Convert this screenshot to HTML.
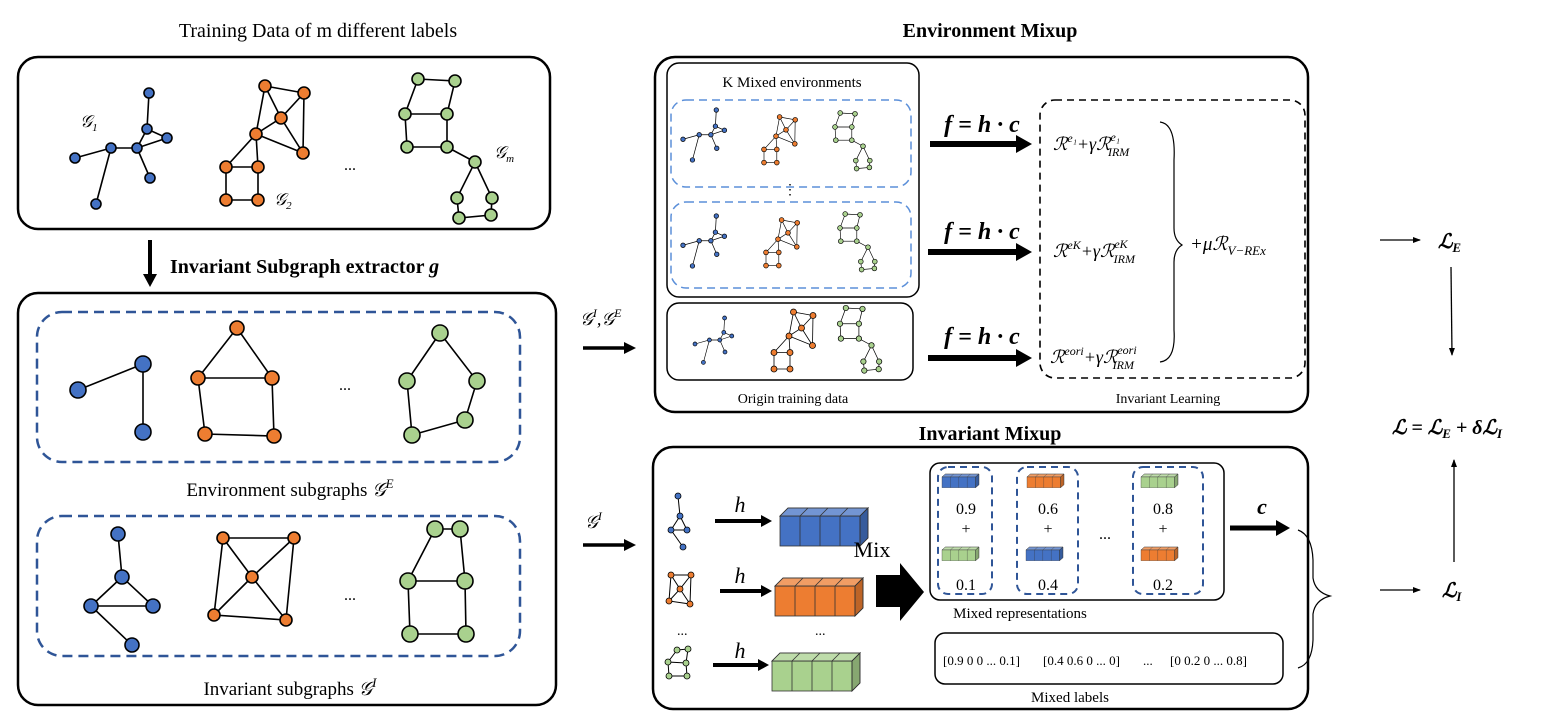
<!DOCTYPE html>
<html><head><meta charset="utf-8"><style>body{margin:0;background:#fff}svg{display:block}text{font-family:"Liberation Serif",serif}</style></head><body>
<svg width="1550" height="718" viewBox="0 0 1550 718" xmlns="http://www.w3.org/2000/svg">
<defs>
<marker id="ah" markerWidth="8" markerHeight="8" refX="7" refY="4" orient="auto" markerUnits="userSpaceOnUse"><path d="M0,1 L8,4 L0,7z" fill="#000"/></marker>
<g id="G1" stroke="#000" stroke-width="1.6">
<g fill="none"><path d="M149,93L147,129L167,138L137,148L147,129M137,148L111,148L75,158M111,148L96,204M137,148L150,178"/></g>
<g fill="#4472C4"><circle cx="149" cy="93" r="5"/><circle cx="147" cy="129" r="5"/><circle cx="167" cy="138" r="5"/><circle cx="137" cy="148" r="5"/><circle cx="111" cy="148" r="5"/><circle cx="75" cy="158" r="5"/><circle cx="150" cy="178" r="5"/><circle cx="96" cy="204" r="5"/></g></g>
<g id="G2" stroke="#000" stroke-width="1.6">
<path fill="none" d="M265,86L304,93L281,118L256,134L265,86L281,118M304,93L303,153L281,118M256,134L303,153M256,134L226,167L258,167L256,134M226,167L226,200L258,200L258,167"/>
<g fill="#ED7D31"><circle cx="265" cy="86" r="6"/><circle cx="304" cy="93" r="6"/><circle cx="281" cy="118" r="6"/><circle cx="256" cy="134" r="6"/><circle cx="303" cy="153" r="6"/><circle cx="226" cy="167" r="6"/><circle cx="258" cy="167" r="6"/><circle cx="226" cy="200" r="6"/><circle cx="258" cy="200" r="6"/></g></g>
<g id="Gm" stroke="#000" stroke-width="1.6">
<path fill="none" d="M418,79L455,81L447,114L405,114L418,79M405,114L407,147L447,147L447,114M447,147L475,162L457,198L459,218L491,215L492,198L475,162"/>
<g fill="#A9D18E"><circle cx="418" cy="79" r="6"/><circle cx="455" cy="81" r="6"/><circle cx="405" cy="114" r="6"/><circle cx="447" cy="114" r="6"/><circle cx="407" cy="147" r="6"/><circle cx="447" cy="147" r="6"/><circle cx="475" cy="162" r="6"/><circle cx="457" cy="198" r="6"/><circle cx="492" cy="198" r="6"/><circle cx="459" cy="218" r="6"/><circle cx="491" cy="215" r="6"/></g></g>
<g id="blk" stroke="#333" stroke-width="0.8">
<rect x="0" y="8" width="80" height="30"/>
<polygon points="0,8 8,0 88,0 80,8"/><polygon points="0,8 8,0 88,0 80,8" fill="#fff" fill-opacity="0.25"/>
<polygon points="80,8 88,0 88,30 80,38"/><polygon points="80,8 88,0 88,30 80,38" fill="#000" fill-opacity="0.2"/>
<path fill="none" d="M20,8V38M40,8V38M60,8V38M28,0L20,8M48,0L40,8M68,0L60,8"/>
</g>
</defs>

<text x="318" y="37" font-size="20" text-anchor="middle">Training Data of m different labels</text>
<rect x="18" y="57" width="532" height="172" rx="20" fill="none" stroke="#000" stroke-width="2.5"/>
<use href="#G1"/><use href="#G2"/><use href="#Gm"/>
<text x="80" y="127" font-size="17" font-style="italic">𝒢<tspan font-size="11" dy="4">1</tspan></text>
<text x="274" y="205" font-size="17" font-style="italic">𝒢<tspan font-size="11" dy="4">2</tspan></text>
<text x="494" y="158" font-size="17" font-style="italic">𝒢<tspan font-size="11" dy="4">m</tspan></text>
<text x="350" y="170" font-size="16" text-anchor="middle">...</text>

<line x1="150" y1="240" x2="150" y2="276" stroke="#000" stroke-width="4"/>
<path d="M143,274L157,274L150,287z" fill="#000"/>
<text x="170" y="273" font-size="20" font-weight="bold">Invariant Subgraph extractor <tspan font-style="italic">g</tspan></text>

<rect x="18" y="293" width="538" height="412" rx="20" fill="none" stroke="#000" stroke-width="2.5"/>
<rect x="37" y="312" width="483" height="150" rx="25" fill="none" stroke="#2F5597" stroke-width="2.5" stroke-dasharray="10,6"/>
<g stroke="#000" stroke-width="1.6" fill="none">
<path d="M78,390L143,364L143,432"/>
<path d="M237,328L198,378L272,378L237,328M198,378L205,434L274,436L272,378"/>
<path d="M440,333L407,381L412,435L465,420L477,381L440,333"/>
</g>
<g stroke="#000" stroke-width="1.6">
<g fill="#4472C4"><circle cx="78" cy="390" r="8"/><circle cx="143" cy="364" r="8"/><circle cx="143" cy="432" r="8"/></g>
<g fill="#ED7D31"><circle cx="237" cy="328" r="7"/><circle cx="198" cy="378" r="7"/><circle cx="272" cy="378" r="7"/><circle cx="205" cy="434" r="7"/><circle cx="274" cy="436" r="7"/></g>
<g fill="#A9D18E"><circle cx="440" cy="333" r="8"/><circle cx="407" cy="381" r="8"/><circle cx="477" cy="381" r="8"/><circle cx="412" cy="435" r="8"/><circle cx="465" cy="420" r="8"/></g>
</g>
<text x="345" y="390" font-size="16" text-anchor="middle">...</text>
<text x="290" y="496" font-size="19" text-anchor="middle">Environment subgraphs <tspan font-style="italic">𝒢</tspan><tspan font-size="13" dy="-8" font-style="italic">E</tspan></text>

<rect x="37" y="516" width="483" height="140" rx="25" fill="none" stroke="#2F5597" stroke-width="2.5" stroke-dasharray="10,6"/>
<g stroke="#000" stroke-width="1.6" fill="none">
<path d="M118,534L122,577L91,606L153,606L122,577M91,606L132,645"/>
<path d="M223,538L294,538L286,620L214,615L223,538M223,538L252,577L294,538M214,615L252,577L286,620"/>
<path d="M435,529L460,529L465,581L408,581L435,529M408,581L410,634L466,634L465,581"/>
</g>
<g stroke="#000" stroke-width="1.6">
<g fill="#4472C4"><circle cx="118" cy="534" r="7"/><circle cx="122" cy="577" r="7"/><circle cx="91" cy="606" r="7"/><circle cx="153" cy="606" r="7"/><circle cx="132" cy="645" r="7"/></g>
<g fill="#ED7D31"><circle cx="223" cy="538" r="6"/><circle cx="294" cy="538" r="6"/><circle cx="252" cy="577" r="6"/><circle cx="214" cy="615" r="6"/><circle cx="286" cy="620" r="6"/></g>
<g fill="#A9D18E"><circle cx="435" cy="529" r="8"/><circle cx="460" cy="529" r="8"/><circle cx="408" cy="581" r="8"/><circle cx="465" cy="581" r="8"/><circle cx="410" cy="634" r="8"/><circle cx="466" cy="634" r="8"/></g>
</g>
<text x="350" y="600" font-size="16" text-anchor="middle">...</text>
<text x="290" y="695" font-size="19" text-anchor="middle">Invariant subgraphs <tspan font-style="italic">𝒢</tspan><tspan font-size="13" dy="-8" font-style="italic">I</tspan></text>

<text x="580" y="325" font-size="18" font-style="italic">𝒢<tspan font-size="12" dy="-8">I</tspan><tspan dy="8">,𝒢</tspan><tspan font-size="12" dy="-8">E</tspan></text>
<line x1="583" y1="348" x2="626" y2="348" stroke="#000" stroke-width="3.5"/><path d="M624,342L636,348L624,354z"/>
<text x="585" y="528" font-size="18" font-style="italic">𝒢<tspan font-size="12" dy="-8">I</tspan></text>
<line x1="583" y1="545" x2="626" y2="545" stroke="#000" stroke-width="3.5"/><path d="M624,539L636,545L624,551z"/>

<text x="990" y="37" font-size="20" font-weight="bold" text-anchor="middle">Environment Mixup</text>
<rect x="655" y="57" width="653" height="355" rx="20" fill="none" stroke="#000" stroke-width="2.5"/>
<rect x="667" y="63" width="252" height="234" rx="12" fill="none" stroke="#000" stroke-width="1.5"/>
<text x="792" y="87" font-size="15" text-anchor="middle">K Mixed environments</text>
<rect x="671" y="100" width="240" height="87" rx="15" fill="none" stroke="#5B8FD9" stroke-width="1.5" stroke-dasharray="8,5"/>
<rect x="671" y="202" width="240" height="86" rx="15" fill="none" stroke="#5B8FD9" stroke-width="1.5" stroke-dasharray="8,5"/>
<text x="790" y="194" font-size="14" text-anchor="middle">⋮</text>
<g transform="translate(683,110) scale(0.45) translate(-75,-93)"><use href="#G1"/></g>
<g transform="translate(764,117) scale(0.4) translate(-226,-86)"><use href="#G2"/></g>
<g transform="translate(835,113) scale(0.4) translate(-405,-79)"><use href="#Gm"/></g>
<g transform="translate(683,216) scale(0.45) translate(-75,-93)"><use href="#G1"/></g>
<g transform="translate(766,220) scale(0.4) translate(-226,-86)"><use href="#G2"/></g>
<g transform="translate(840,214) scale(0.4) translate(-405,-79)"><use href="#Gm"/></g>
<rect x="667" y="303" width="246" height="77" rx="12" fill="none" stroke="#000" stroke-width="1.5"/>
<g transform="translate(695,318) scale(0.4) translate(-75,-93)"><use href="#G1"/></g>
<g transform="translate(774,312) scale(0.5) translate(-226,-86)"><use href="#G2"/></g>
<g transform="translate(840,308) scale(0.45) translate(-405,-79)"><use href="#Gm"/></g>
<text x="793" y="403" font-size="14" text-anchor="middle">Origin training data</text>

<g font-size="24" font-weight="bold" font-style="italic" text-anchor="middle">
<text x="982" y="132">f = h · c</text><text x="982" y="239">f = h · c</text><text x="982" y="344">f = h · c</text></g>
<g stroke="#000" stroke-width="6"><line x1="930" y1="144" x2="1018" y2="144"/><line x1="928" y1="252" x2="1018" y2="252"/><line x1="928" y1="358" x2="1018" y2="358"/></g>
<path d="M1016,135L1032,144L1016,153zM1016,243L1032,252L1016,261zM1016,349L1032,358L1016,367z"/>
<rect x="1040" y="100" width="265" height="278" rx="15" fill="none" stroke="#000" stroke-width="1.6" stroke-dasharray="7,5"/>
<g font-size="18" font-style="italic">
<text x="1053" y="150">ℛ<tspan font-size="12" dy="-8">e₁</tspan><tspan dy="8">+γℛ</tspan><tspan font-size="12" dy="-9">e₁</tspan><tspan font-size="12" dx="-12" dy="15">IRM</tspan></text>
<text x="1053" y="257">ℛ<tspan font-size="12" dy="-8">eK</tspan><tspan dy="8">+γℛ</tspan><tspan font-size="12" dy="-9">eK</tspan><tspan font-size="12" dx="-14" dy="15">IRM</tspan></text>
<text x="1050" y="363">ℛ<tspan font-size="12" dy="-8">eori</tspan><tspan dy="8">+γℛ</tspan><tspan font-size="12" dy="-9">eori</tspan><tspan font-size="12" dx="-24" dy="15">IRM</tspan></text>
<text x="1190" y="250" font-size="19">+μℛ<tspan font-size="13" dy="5">V−REx</tspan></text>
</g>
<path d="M1160,122 Q1176,124 1174,160 L1174,228 Q1174,240 1182,245 Q1174,250 1174,262 L1174,330 Q1176,360 1160,362" fill="none" stroke="#000" stroke-width="1.2"/>
<text x="1168" y="403" font-size="14" text-anchor="middle">Invariant Learning</text>

<line x1="1380" y1="240" x2="1420" y2="240" stroke="#000" stroke-width="1.3" marker-end="url(#ah)"/>
<text x="1438" y="248" font-size="20" font-weight="bold" font-style="italic">ℒ<tspan font-size="13" dy="4">E</tspan></text>
<line x1="1451" y1="267" x2="1452" y2="355" stroke="#000" stroke-width="1.3" marker-end="url(#ah)"/>
<text x="1392" y="434" font-size="20" font-weight="bold" font-style="italic">ℒ = ℒ<tspan font-size="13" dy="4">E</tspan><tspan dy="-4"> + δℒ</tspan><tspan font-size="13" dy="4">I</tspan></text>
<line x1="1454" y1="562" x2="1454" y2="460" stroke="#000" stroke-width="1.3" marker-end="url(#ah)"/>
<line x1="1380" y1="590" x2="1420" y2="590" stroke="#000" stroke-width="1.3" marker-end="url(#ah)"/>
<text x="1442" y="597" font-size="20" font-weight="bold" font-style="italic">ℒ<tspan font-size="13" dy="4">I</tspan></text>

<text x="990" y="440" font-size="20" font-weight="bold" text-anchor="middle">Invariant Mixup</text>
<rect x="653" y="447" width="655" height="262" rx="20" fill="none" stroke="#000" stroke-width="2.5"/>
<g stroke="#000" stroke-width="1" fill="none">
<path d="M678,496L680,516L671,530L687,530L680,516M671,530L683,547"/>
<path d="M671,575L691,575L690,604L669,601L671,575M671,575L680,589L691,575M669,601L680,589L690,604"/>
<path d="M677,650L688,649L686,663L668,662L677,650M668,662L669,676L687,676L686,663"/>
</g>
<g stroke="#000" stroke-width="0.8">
<g fill="#4472C4"><circle cx="678" cy="496" r="3"/><circle cx="680" cy="516" r="3"/><circle cx="671" cy="530" r="3"/><circle cx="687" cy="530" r="3"/><circle cx="683" cy="547" r="3"/></g>
<g fill="#ED7D31"><circle cx="671" cy="575" r="3"/><circle cx="691" cy="575" r="3"/><circle cx="680" cy="589" r="3"/><circle cx="669" cy="601" r="3"/><circle cx="690" cy="604" r="3"/></g>
<g fill="#A9D18E"><circle cx="677" cy="650" r="3"/><circle cx="688" cy="649" r="3"/><circle cx="668" cy="662" r="3"/><circle cx="686" cy="663" r="3"/><circle cx="669" cy="676" r="3"/><circle cx="687" cy="676" r="3"/></g>
</g>
<text x="677" y="635" font-size="14">...</text>
<g font-size="22" font-style="italic" text-anchor="middle"><text x="740" y="512">h</text><text x="740" y="583">h</text><text x="740" y="658">h</text></g>
<g stroke="#000" stroke-width="4"><line x1="715" y1="521" x2="763" y2="521"/><line x1="720" y1="591" x2="763" y2="591"/><line x1="713" y1="665" x2="760" y2="665"/></g>
<path d="M761,515L772,521L761,527zM761,585L772,591L761,597zM758,659L769,665L758,671z"/>
<use href="#blk" x="780" y="508" fill="#4472C4"/>
<use href="#blk" x="775" y="578" fill="#ED7D31"/>
<use href="#blk" x="772" y="653" fill="#A9D18E"/>
<text x="815" y="635" font-size="14">...</text>
<text x="872" y="557" font-size="22" text-anchor="middle">Mix</text>
<path d="M876,575L900,575L900,563L924,592L900,621L900,607L876,607z" fill="#000"/>

<rect x="930" y="463" width="294" height="137" rx="10" fill="none" stroke="#000" stroke-width="1.5"/>
<g fill="none" stroke="#2F5597" stroke-width="2" stroke-dasharray="7,5">
<rect x="938" y="467" width="54" height="127" rx="10"/><rect x="1017" y="467" width="61" height="127" rx="10"/><rect x="1133" y="467" width="70" height="127" rx="10"/></g>
<g transform="translate(942,474) scale(0.42,0.36)"><use href="#blk" fill="#4472C4"/></g>
<g transform="translate(942,547) scale(0.42,0.36)"><use href="#blk" fill="#A9D18E"/></g>
<g transform="translate(1027,474) scale(0.42,0.36)"><use href="#blk" fill="#ED7D31"/></g>
<g transform="translate(1026,547) scale(0.42,0.36)"><use href="#blk" fill="#4472C4"/></g>
<g transform="translate(1141,474) scale(0.42,0.36)"><use href="#blk" fill="#A9D18E"/></g>
<g transform="translate(1141,547) scale(0.42,0.36)"><use href="#blk" fill="#ED7D31"/></g>
<g font-size="16" text-anchor="middle">
<text x="966" y="514">0.9</text><text x="966" y="534">+</text><text x="966" y="590">0.1</text>
<text x="1048" y="514">0.6</text><text x="1048" y="534">+</text><text x="1048" y="590">0.4</text>
<text x="1163" y="514">0.8</text><text x="1163" y="534">+</text><text x="1163" y="590">0.2</text>
<text x="1105" y="539">...</text></g>
<text x="1020" y="618" font-size="15" text-anchor="middle">Mixed representations</text>
<rect x="935" y="633" width="348" height="51" rx="10" fill="none" stroke="#000" stroke-width="1.5"/>
<text x="943" y="665" font-size="13">[0.9 0 0 ... 0.1]</text><text x="1043" y="665" font-size="13">[0.4 0.6 0 ... 0]</text><text x="1143" y="665" font-size="13">...</text><text x="1170" y="665" font-size="13">[0 0.2 0 ... 0.8]</text>
<text x="1070" y="702" font-size="15" text-anchor="middle">Mixed labels</text>
<text x="1262" y="514" font-size="22" font-weight="bold" font-style="italic" text-anchor="middle">c</text>
<line x1="1230" y1="528" x2="1278" y2="528" stroke="#000" stroke-width="5"/><path d="M1276,520L1290,528L1276,536z"/>
<path d="M1298,530 Q1312,535 1313,560 L1313,578 Q1315,592 1330,596 Q1315,600 1313,614 L1313,640 Q1312,664 1298,668" fill="none" stroke="#000" stroke-width="1.2"/>
</svg>
</body></html>
